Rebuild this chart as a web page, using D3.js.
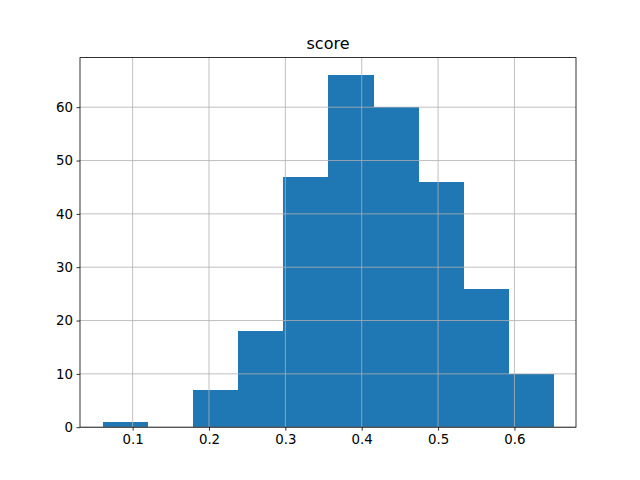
<!DOCTYPE html>
<html><head><meta charset="utf-8">
<script src="https://cdn.jsdelivr.net/npm/d3@7"></script>
<style>body{margin:0;background:#fff}svg{display:block}text{font-family:"DejaVu Sans",sans-serif}</style>
</head><body><svg id="c" width="640" height="480"></svg>
<script>
const binEdges = [0.0606, 0.1196, 0.1787, 0.2377, 0.2968, 0.3558, 0.4149, 0.4739, 0.5330, 0.5920, 0.6511];
const counts = [1, 0, 7, 18, 47, 66, 60, 46, 26, 10];
const xTicks = [0.1, 0.2, 0.3, 0.4, 0.5, 0.6];
const yTicks = [0, 10, 20, 30, 40, 50, 60];
const title = "score";

const L = 80, R = 576, T = 57.6, B = 427.2;
const svg = d3.select("#c");
const x0 = binEdges[0], x1 = binEdges[binEdges.length-1], pad = (x1-x0)*0.05;
const x = d3.scaleLinear().domain([x0-pad, x1+pad]).range([L, R]);
const ymax = d3.max(counts)*1.05;
const y = d3.scaleLinear().domain([0, ymax]).range([B, T]);

const bins = counts.map((c,i)=>({a:binEdges[i], b:binEdges[i+1], c}));
svg.append("g").attr("shape-rendering", "crispEdges").selectAll("rect").data(bins.filter(d=>d.c>0)).join("rect")
  .attr("x", d=>x(d.a)).attr("width", d=>x(d.b)-x(d.a)+0.5)
  .attr("y", d=>y(d.c)).attr("height", d=>y(0)-y(d.c))
  .attr("fill", "#1f77b4");

// grid on top
const g = svg.append("g").attr("stroke", "#b0b0b0").attr("stroke-width", 0.8);
xTicks.forEach(t=>g.append("line").attr("x1", x(t)).attr("x2", x(t)).attr("y1", T).attr("y2", B));
yTicks.forEach(t=>g.append("line").attr("x1", L).attr("x2", R).attr("y1", y(t)).attr("y2", y(t)));

const xa = svg.append("g").attr("transform", `translate(0,${B})`)
  .call(d3.axisBottom(x).tickValues(xTicks).tickSize(3.5).tickPadding(3.5).tickFormat(d3.format(".1f")));
const ya = svg.append("g").attr("transform", `translate(${L},0)`)
  .call(d3.axisLeft(y).tickValues(yTicks).tickSize(3.5).tickPadding(3.5).tickFormat(d3.format("d")));
[xa, ya].forEach(a=>{
  a.select(".domain").remove();
  a.selectAll("text").attr("font-size", "13.33px").attr("fill", "#000").attr("font-family", "DejaVu Sans");
  a.selectAll("line").attr("stroke", "#000").attr("stroke-width", 0.8);
});
svg.append("rect").attr("x", L).attr("y", T).attr("width", R-L).attr("height", B-T)
  .attr("fill", "none").attr("stroke", "#000").attr("stroke-width", 0.8);
svg.append("text").attr("x", (L+R)/2).attr("y", T-9).attr("text-anchor", "middle")
  .attr("font-size", "16px").text(title);
</script></body></html>
